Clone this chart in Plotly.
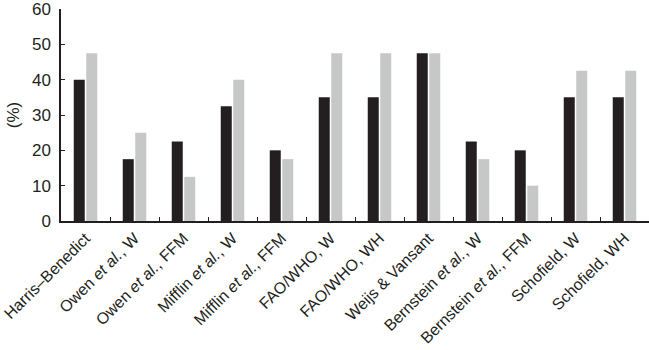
import plotly.graph_objects as go

categories = ["Harris–Benedict", "Owen <i>et al.</i>, W", "Owen <i>et al.</i>, FFM",
              "Mifflin <i>et al.</i>, W", "Mifflin <i>et al.</i>, FFM", "FAO/WHO, W",
              "FAO/WHO, WH", "Weijs & Vansant", "Bernstein <i>et al.</i>, W",
              "Bernstein <i>et al.</i>, FFM", "Schofield, W", "Schofield, WH"]
series_black = [40, 17.5, 22.5, 32.5, 20, 35, 35, 47.5, 22.5, 20, 35, 35]
series_grey = [47.5, 25, 12.5, 40, 17.5, 47.5, 47.5, 47.5, 17.5, 10, 42.5, 42.5]
y_ticks = [0, 10, 20, 30, 40, 50, 60]

fig = go.Figure()
fig.add_trace(go.Bar(x=categories, y=series_black, marker=dict(color="#231f20", line=dict(width=0)), showlegend=False))
fig.add_trace(go.Bar(x=categories, y=series_grey, marker=dict(color="#c6c8c8", line=dict(width=0)), showlegend=False))

fig.update_layout(
    width=649, height=350,
    margin=dict(l=61, r=0, t=9, b=129),
    paper_bgcolor="white", plot_bgcolor="white",
    barmode="group", bargap=0.49, bargroupgap=0.12,
    font=dict(family="Liberation Sans, Arial, sans-serif", color="#231f20"),
)
fig.update_xaxes(
    type="category", range=[-0.5, 11.5], automargin=False, ticklabeloverflow="allow",
    showline=True, linecolor="#231f20", linewidth=1.5,
    ticks="inside", tickson="boundaries", ticklen=4, tickcolor="#231f20", tickwidth=1,
    tickangle=-45, tickfont=dict(size=16), showgrid=False, zeroline=False,
)
fig.update_yaxes(
    range=[0, 60], tickvals=y_ticks, automargin=False, ticklabeloverflow="allow",
    showline=True, linecolor="#231f20", linewidth=1.5,
    ticks="inside", ticklen=4, tickcolor="#231f20", tickwidth=1,
    ticklabelstandoff=5,
    tickfont=dict(size=17), showgrid=False, zeroline=False,
    title=dict(text="(%)", font=dict(size=17), standoff=8),
)
fig.write_html("out.html", config={"displayModeBar": False},
               post_script="document.body.style.margin='0';")
